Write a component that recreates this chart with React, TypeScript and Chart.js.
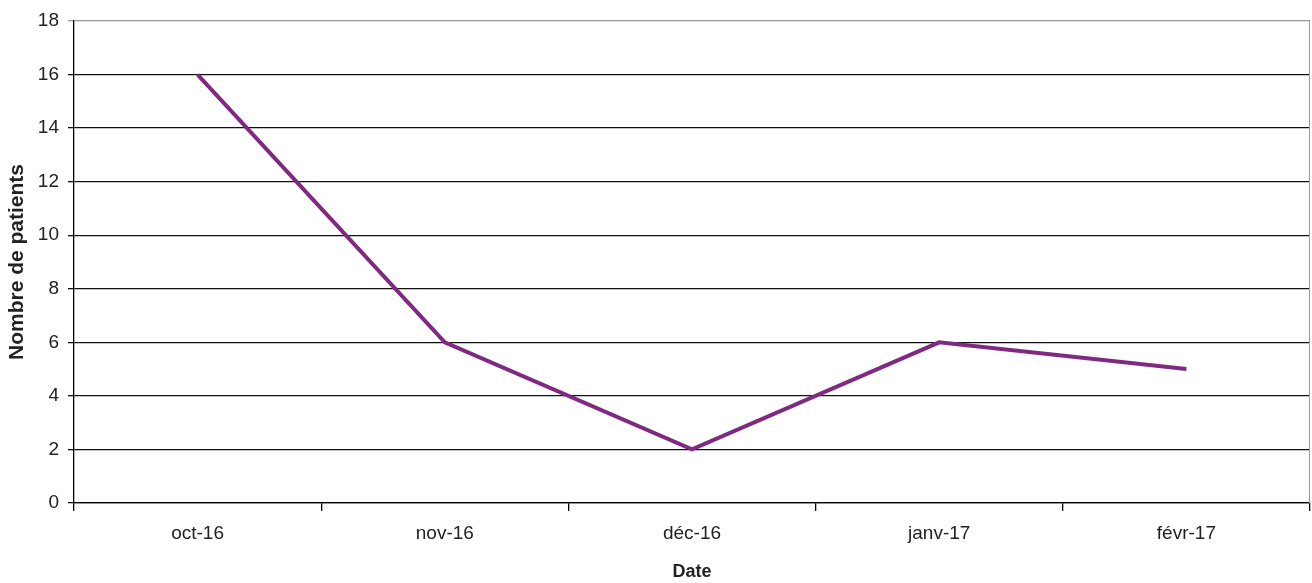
import React, { useEffect, useRef } from "react";
import { Chart, registerables } from "chart.js";

Chart.register(...registerables);

const categories: string[] = ["oct-16", "nov-16", "déc-16", "janv-17", "févr-17"];
const patients: number[] = [16, 6, 2, 6, 5];
const yTickValues: number[] = [0, 2, 4, 6, 8, 10, 12, 14, 16, 18];
const yTitle = "Nombre de patients";
const xTitle = "Date";

const FONT = "'Liberation Sans', Arial, sans-serif";

const frameLines = {
  id: "frameLines",
  afterDraw(chart: any) {
    const { ctx, chartArea } = chart;
    ctx.save();
    ctx.strokeStyle = "#9a9a9a";
    ctx.lineWidth = 1;
    ctx.beginPath();
    ctx.moveTo(chartArea.right - 0.5, chartArea.top);
    ctx.lineTo(chartArea.right - 0.5, chartArea.bottom);
    ctx.stroke();
    ctx.restore();
  },
};

export default function App() {
  const canvasRef = useRef<HTMLCanvasElement | null>(null);

  useEffect(() => {
    if (!canvasRef.current) return;
    const chart = new Chart(canvasRef.current, {
      type: "line",
      data: {
        labels: categories,
        datasets: [
          {
            label: yTitle,
            data: patients,
            borderColor: "#7F2A80",
            backgroundColor: "#7F2A80",
            borderWidth: 4,
            pointRadius: 0,
            tension: 0,
          },
        ],
      },
      options: {
        responsive: false,
        animation: false,
        layout: { padding: { top: 21, right: 2, bottom: 0, left: 0 } },
        plugins: {
          legend: { display: false },
          tooltip: { enabled: false },
        },
        scales: {
          x: {
            offset: true,
            grid: {
              offset: true,
              drawOnChartArea: false,
              drawTicks: true,
              tickLength: 8,
              color: "#000",
              lineWidth: 1.3,
            },
            border: { display: true, color: "#000", width: 1.3 },
            ticks: {
              color: "#222",
              font: { family: FONT, size: 19 },
              padding: 11,
              maxRotation: 0,
            },
            title: {
              display: true,
              text: xTitle,
              color: "#222",
              font: { family: FONT, size: 18, weight: "bold" },
              padding: { top: 0, bottom: 0 },
            },
            afterFit(scale: any) {
              scale.height = 80;
            },
          },
          y: {
            min: 0,
            max: 18,
            afterBuildTicks(scale: any) {
              scale.ticks = yTickValues.map((v) => ({ value: v }));
            },
            grid: {
              color: (ctx: any) => (ctx.tick && ctx.tick.value === 18 ? "#9a9a9a" : "#111"),
              lineWidth: 1.3,
              drawTicks: true,
              tickLength: 6,
            },
            border: { display: true, color: "#000", width: 1.3 },
            ticks: {
              color: "#222",
              font: { family: FONT, size: 19 },
              padding: 9,
              stepSize: 2,
            },
            title: {
              display: true,
              text: yTitle,
              color: "#222",
              font: { family: FONT, size: 21, weight: "bold" },
              padding: { top: 5, bottom: 0 },
            },
            afterFit(scale: any) {
              scale.width = 74;
            },
          },
        },
      },
      plugins: [frameLines],
    });
    return () => chart.destroy();
  }, []);

  return (
    <div style={{ position: "fixed", left: 0, top: 0, width: 1312, height: 583, background: "#fff" }}>
      <canvas ref={canvasRef} width={1312} height={583} />
    </div>
  );
}
